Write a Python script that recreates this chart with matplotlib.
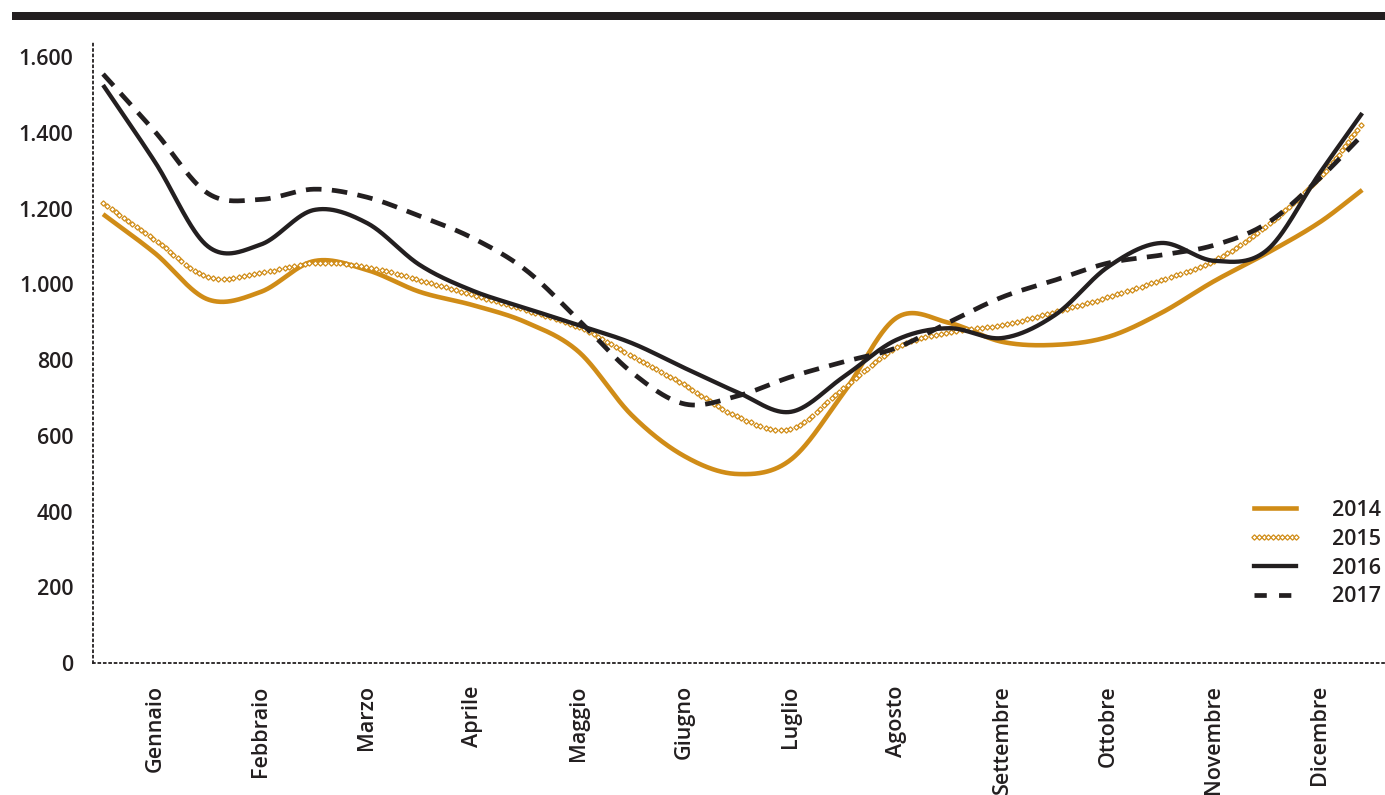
import numpy as np
import matplotlib
matplotlib.use("Agg")
import matplotlib.pyplot as plt
from matplotlib.lines import Line2D
from matplotlib.patches import Rectangle

plt.rcParams['font.family'] = ['Open Sans', 'DejaVu Sans']
plt.rcParams['font.weight'] = 'semibold'

# mesi sull'asse x
mesi = ["Gennaio", "Febbraio", "Marzo", "Aprile", "Maggio", "Giugno",
        "Luglio", "Agosto", "Settembre", "Ottobre", "Novembre", "Dicembre"]

# punti rilevati ogni mezzo mese (0 = Gennaio)
pos = [-0.49, 0, 0.5, 1, 1.5, 2, 2.5, 3, 3.5, 4, 4.5, 5, 5.5, 6, 6.5, 7,
       7.5, 8, 8.5, 9, 9.5, 10, 10.5, 11, 11.4]

v2014 = [1185, 1082, 960, 980, 1061, 1038, 980, 945, 900, 822, 655, 546,
         499, 536, 712, 911, 898, 848, 840, 861, 924, 1008, 1082, 1164, 1249]
v2015 = [1214, 1117, 1019, 1030, 1056, 1046, 1011, 972, 932, 887, 811, 734,
         650, 618, 726, 832, 874, 892, 927, 966, 1011, 1062, 1156, 1283, 1425]
v2016 = [1526, 1323, 1100, 1105, 1196, 1162, 1051, 983, 937, 892, 845, 779,
         715, 663, 755, 853, 884, 858, 919, 1046, 1109, 1062, 1090, 1294, 1452]
v2017 = [1555, 1403, 1240, 1224, 1251, 1230, 1180, 1122, 1038, 906, 768, 684,
         705, 755, 795, 832, 900, 966, 1011, 1056, 1077, 1103, 1161, 1280, 1394]

yticks = [0, 200, 400, 600, 800, 1000, 1200, 1400, 1600]

ORO = '#D08C17'
NERO = '#231F20'


def curva(x, y, n=60):
    # spline di Hermite con tangenti alle differenze centrali
    x = np.asarray(x, float)
    y = np.asarray(y, float)
    m = np.empty_like(y)
    m[1:-1] = (y[2:] - y[:-2]) / (x[2:] - x[:-2])
    m[0] = (y[1] - y[0]) / (x[1] - x[0])
    m[-1] = (y[-1] - y[-2]) / (x[-1] - x[-2])
    xs, ys = [], []
    for i in range(len(x) - 1):
        h = x[i + 1] - x[i]
        t = np.linspace(0, 1, n, endpoint=(i == len(x) - 2))
        h00 = 2 * t**3 - 3 * t**2 + 1
        h10 = t**3 - 2 * t**2 + t
        h01 = -2 * t**3 + 3 * t**2
        h11 = t**3 - t**2
        xs.append(x[i] + t * h)
        ys.append(h00 * y[i] + h10 * h * m[i] + h01 * y[i + 1] + h11 * h * m[i + 1])
    return np.concatenate(xs), np.concatenate(ys)


W, H = 1385, 795
fig = plt.figure(figsize=(W / 100, H / 100), dpi=100)
ax = fig.add_axes([93 / W, 1 - 663 / H, (W - 93) / W, (663 - 43) / H])

x, y = curva(pos, v2014)
ax.plot(x, y, color=ORO, lw=3.3, solid_capstyle='butt')
x, y = curva(pos, v2015)
ax.plot(x, y, ls='none', marker='D', ms=2.7, mfc='white', mec=ORO, mew=0.9,
        markevery=0.0036)
x, y = curva(pos, v2016)
ax.plot(x, y, color=NERO, lw=3.1, solid_capstyle='butt')
x, y = curva(pos, v2017)
ax.plot(x, y, color=NERO, lw=3.4, dashes=(3.3, 2.2), dash_capstyle='butt')

ax.set_xlim(-0.585, 11.615)
ax.set_ylim(0, 1637)

ax.set_yticks(yticks)
ax.set_yticklabels([f"{v:,}".replace(",", ".") for v in yticks])
ax.set_xticks(np.arange(12) + 0.0)
ax.set_xticklabels(mesi, rotation=90, ha='center', va='top')
ax.tick_params(axis='both', length=0, labelsize=15.5, colors=NERO)
ax.tick_params(axis='x', pad=16)
ax.tick_params(axis='y', pad=14)

for lato in ['top', 'right']:
    ax.spines[lato].set_visible(False)
for lato in ['left', 'bottom']:
    ax.spines[lato].set_linestyle((0, (1, 2)))
    ax.spines[lato].set_linewidth(1.3)
    ax.spines[lato].set_color(NERO)

# legenda
voci = [
    Line2D([], [], color=ORO, lw=3.3),
    Line2D([], [], ls='none', marker='D', ms=2.7, mfc='white', mec=ORO, mew=0.9),
    Line2D([], [], color=NERO, lw=3.1),
    Line2D([], [], color=NERO, lw=3.4, dashes=(2.6, 2.6)),
]
leg = ax.legend(voci, ['2014', '2015', '2016', '2017'], loc='upper left',
                bbox_to_anchor=(1248 / W, 1 - 500 / H), bbox_transform=fig.transFigure,
                frameon=False, fontsize=15.5, handlelength=2.55, handletextpad=1.35,
                labelspacing=0.36, borderpad=0, borderaxespad=0, numpoints=10,
                markerscale=1)
for t in leg.get_texts():
    t.set_color(NERO)

# barra nera in alto
fig.add_artist(Rectangle((12 / W, 1 - 19.5 / H), 1 - 12 / W, 8 / H,
                         transform=fig.transFigure, color=NERO, lw=0))

fig.savefig("out.png", dpi=100)
